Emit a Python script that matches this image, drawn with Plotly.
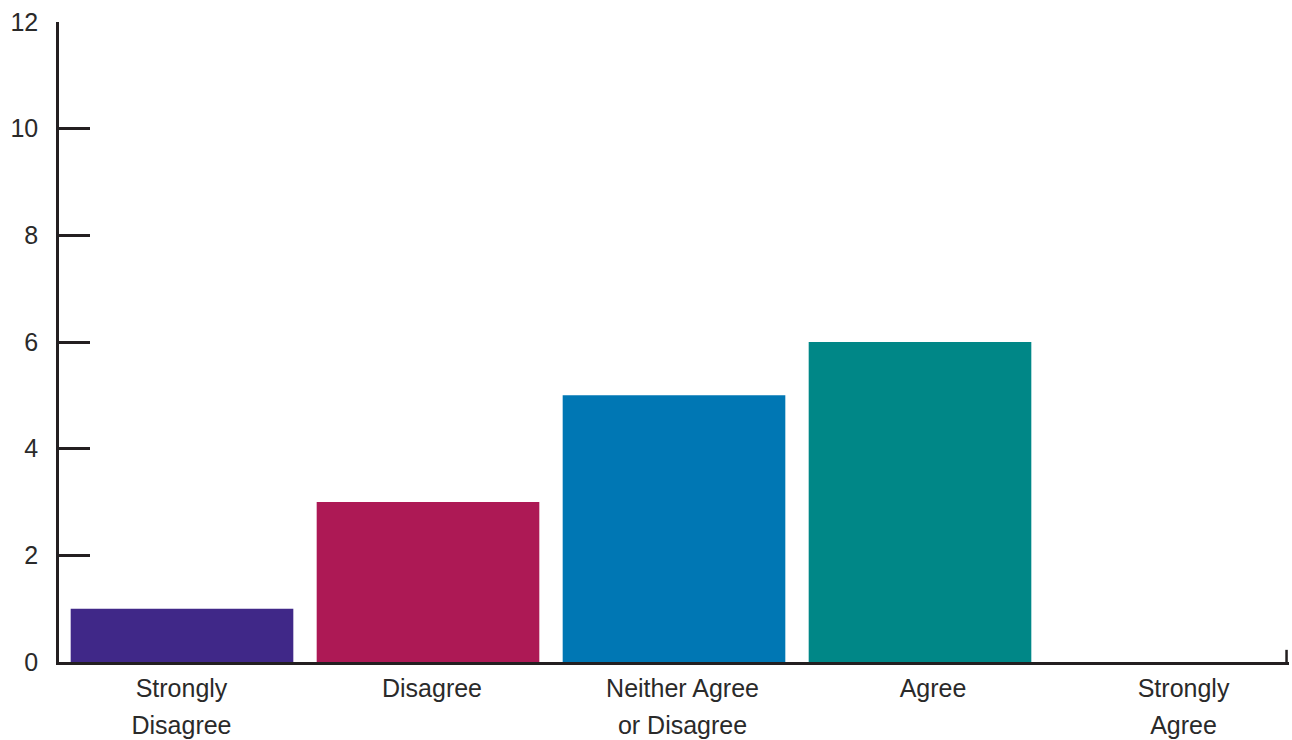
import plotly.graph_objects as go

categories = ["Strongly Disagree", "Disagree", "Neither Agree or Disagree", "Agree", "Strongly Agree"]
label_line1 = ["Strongly", "Disagree", "Neither Agree", "Agree", "Strongly"]
label_line2 = ["Disagree", "", "or Disagree", "", "Agree"]
values = [1, 3, 5, 6, 0]
colors = ["#402888", "#AD1955", "#0077B4", "#008787", "#7A7A7A"]
y_ticks = [0, 2, 4, 6, 8, 10, 12]

axis_color = "#231F20"
text_color = "#2a2a2a"
font = dict(family="Liberation Sans, Arial, sans-serif", size=25, color=text_color)
idx = list(range(len(categories)))

fig = go.Figure()
fig.add_trace(go.Bar(x=idx, y=values, marker=dict(color=colors, line=dict(width=0)),
                     hoverinfo="skip", customdata=categories))
# invisible traces to carry the label axes
for ax in ("x2", "x3"):
    fig.add_trace(go.Scatter(x=idx, y=values, xaxis=ax, mode="markers",
                             marker=dict(opacity=0), hoverinfo="skip"))

fig.update_layout(
    width=1292, height=740,
    margin=dict(l=59, r=3, t=22, b=78, autoexpand=False),
    paper_bgcolor="white", plot_bgcolor="white",
    bargap=0.095,
    showlegend=False,
    font=font,
)
fig.update_xaxes(
    range=[-0.5, len(categories) - 0.5],
    showline=True, linecolor=axis_color, linewidth=2.5,
    showgrid=False, zeroline=False, ticks="", showticklabels=False, automargin=False,
)
label_range = [-0.489, 4.421]
fig.update_layout(
    xaxis2=dict(overlaying="x", anchor="y", side="bottom", range=label_range,
                tickmode="array", tickvals=idx, ticktext=label_line1,
                showline=False, showgrid=False, zeroline=False, ticks="",
                ticklabelstandoff=9, automargin=False),
    xaxis3=dict(overlaying="x", anchor="y", side="bottom", range=label_range,
                tickmode="array", tickvals=idx, ticktext=label_line2,
                showline=False, showgrid=False, zeroline=False, ticks="",
                ticklabelstandoff=46, automargin=False),
)
fig.update_yaxes(
    range=[0, 12], tickvals=y_ticks,
    showline=True, linecolor=axis_color, linewidth=2.5,
    ticks="inside", ticklen=31, tickwidth=2.5, tickcolor=axis_color,
    showgrid=False, zeroline=False, ticklabelstandoff=13, automargin=False,
)
fig.add_shape(type="line", xref="paper", yref="paper", x0=0.998, x1=0.998, y0=0, y1=0.019,
              line=dict(color=axis_color, width=2.5))

fig.write_html("out.html", config={"responsive": False, "displayModeBar": False},
               post_script="document.body.style.margin='0';document.body.style.overflow='hidden';")
